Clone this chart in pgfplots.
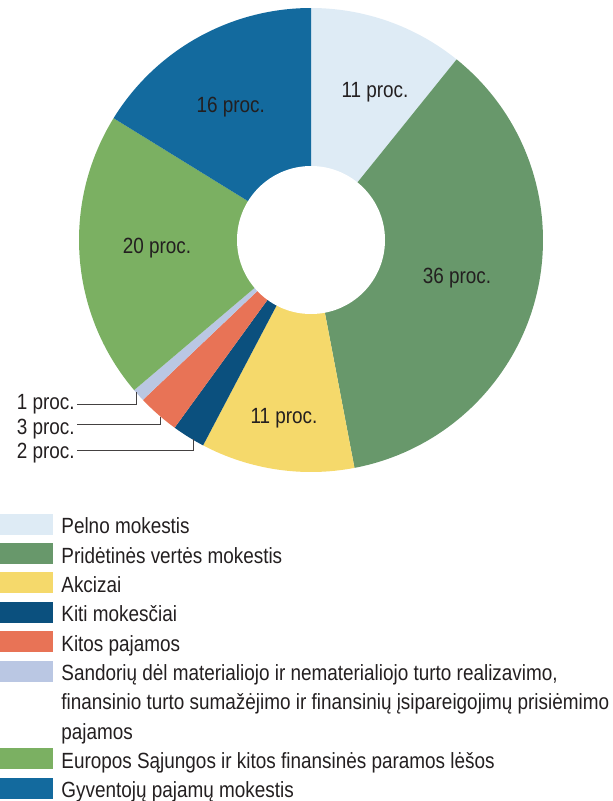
\documentclass[border=0pt]{standalone}
\usepackage{pgfplots}
\usepackage{pgfplotstable}
\pgfplotsset{compat=1.18}
\usepackage{fontspec}
\setmainfont[FakeStretch=0.86]{Liberation Sans}

\definecolor{cPelno}{RGB}{222,235,245}
\definecolor{cPVM}{RGB}{104,152,107}
\definecolor{cAkc}{RGB}{245,217,107}
\definecolor{cKiti}{RGB}{11,80,126}
\definecolor{cKitos}{RGB}{232,115,86}
\definecolor{cSand}{RGB}{186,199,227}
\definecolor{cES}{RGB}{123,176,98}
\definecolor{cGPM}{RGB}{19,106,158}
\definecolor{txt}{RGB}{35,31,32}

% shares (percent), clockwise from 12 o'clock
\pgfplotstableread[col sep=comma]{
idx,value
0,10.8
1,36.2
2,10.7
3,2.3
4,2.9
5,0.9
6,20.0
7,16.2
}\piedata

% cumulative angles
\xdef\cum{0}
\pgfplotsforeachungrouped \i in {0,...,7}{%
  \pgfplotstablegetelem{\i}{value}\of\piedata
  \pgfmathsetmacro\sa{90-3.6*\cum}%
  \pgfmathsetmacro\newcum{\cum+\pgfplotsretval}%
  \pgfmathsetmacro\ea{90-3.6*\newcum}%
  \expandafter\xdef\csname piesa\i\endcsname{\sa}%
  \expandafter\xdef\csname pieea\i\endcsname{\ea}%
  \xdef\cum{\newcum}%
}
\def\pieSA#1{\csname piesa#1\endcsname}
\def\pieEA#1{\csname pieea#1\endcsname}
\def\slicecolor#1{\ifcase#1 cPelno\or cPVM\or cAkc\or cKiti\or cKitos\or cSand\or cES\or cGPM\fi}
\def\lblfont{\fontsize{22}{26}\selectfont}

\begin{document}
\lblfont
\begin{tikzpicture}
\begin{axis}[
  x=1pt, y=1pt,
  xmin=0, xmax=613, ymin=0, ymax=801,
  y dir=reverse,
  scale only axis, enlargelimits=false,
  hide axis, clip=false,
  legend cell align=left,
  legend style={
    at={(axis cs:0,513.5)}, anchor=north west,
    draw=none, fill=none, inner sep=0pt, outer sep=0pt,
    row sep=7.2pt, column sep=9pt,
    font=\lblfont\color{txt},
    nodes={inner sep=0pt, outer sep=0pt, text height=20pt, text depth=2pt, anchor=base west},
  },
  sq/.style={legend image code/.code={\fill[#1] (0pt,0pt) rectangle (52pt,20pt);}},
]
\path (axis cs:0,0) (axis cs:613,801);
\pgfplotsinvokeforeach{0,...,7}{
  \fill[\slicecolor{#1}] (axis cs:311,240) -- ++(\pieSA{#1}:232pt)
     arc[start angle=\pieSA{#1}, end angle=\pieEA{#1}, radius=232pt] -- cycle;
}
\fill[white] (axis cs:311,240) circle[radius=74pt];

\begin{scope}[every node/.style={text=txt, font=\lblfont, inner sep=0pt}]
\node[anchor=base] at (axis cs:375,97) {11 proc.};
\node[anchor=base] at (axis cs:457,283.3) {36 proc.};
\node[anchor=base] at (axis cs:284,423.3) {11 proc.};
\node[anchor=base] at (axis cs:157,253.3) {20 proc.};
\node[anchor=base] at (axis cs:230.7,112.3) {16 proc.};
\node[anchor=base west] at (axis cs:16.7,409.3) {1 proc.};
\node[anchor=base west] at (axis cs:16.7,434) {3 proc.};
\node[anchor=base west] at (axis cs:16.7,458.5) {2 proc.};
\end{scope}
\draw[line width=0.9pt, color=txt!85] (axis cs:77,404) -- (axis cs:136,404) -- (axis cs:136,392);
\draw[line width=0.9pt, color=txt!85] (axis cs:77,424.3) -- (axis cs:160.7,424.3) -- (axis cs:160.7,417);
\draw[line width=0.9pt, color=txt!85] (axis cs:77,450.7) -- (axis cs:193.3,450.7) -- (axis cs:193.3,439);

\addlegendimage{sq=cPelno}
\addlegendentry{Pelno mokestis}
\addlegendimage{sq=cPVM}
\addlegendentry{Pridėtinės vertės mokestis}
\addlegendimage{sq=cAkc}
\addlegendentry{Akcizai}
\addlegendimage{sq=cKiti}
\addlegendentry{Kiti mokesčiai}
\addlegendimage{sq=cKitos}
\addlegendentry{Kitos pajamos}
\addlegendimage{sq=cSand}
\addlegendentry{Sandorių dėl materialiojo ir nematerialiojo turto realizavimo,}
\addlegendimage{empty legend}
\addlegendentry{finansinio turto sumažėjimo ir finansinių įsipareigojimų prisiėmimo}
\addlegendimage{empty legend}
\addlegendentry{pajamos}
\addlegendimage{sq=cES}
\addlegendentry{Europos Sąjungos ir kitos finansinės paramos lėšos}
\addlegendimage{sq=cGPM}
\addlegendentry{Gyventojų pajamų mokestis}
\end{axis}
\end{tikzpicture}
\end{document}
